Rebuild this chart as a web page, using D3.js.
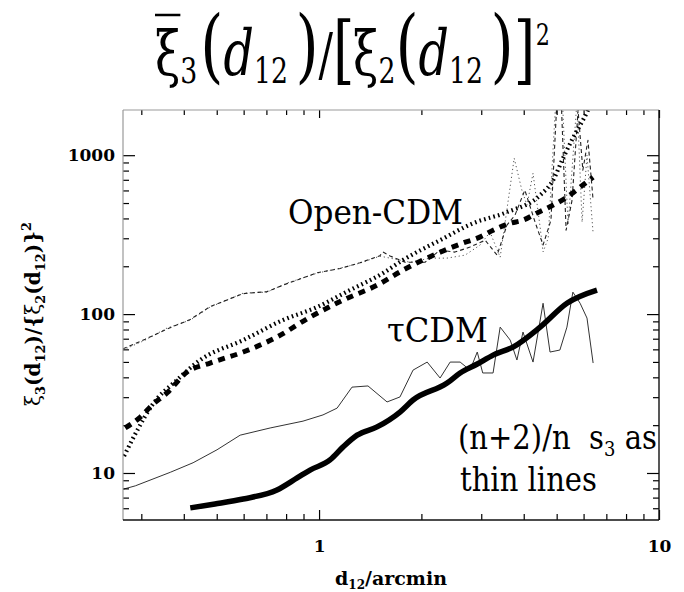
<!DOCTYPE html>
<html><head><meta charset="utf-8">
<script src="https://cdn.jsdelivr.net/npm/d3@7"></script>
<style>body{margin:0;background:#fff}svg{display:block}</style>
</head><body>
<svg id="c" width="684" height="592"></svg>
<script>
// ---------- data ----------
const xTicksMajor = [1, 10];
const xTicksMinor = [0.3,0.4,0.5,0.6,0.7,0.8,0.9,2,3,4,5,6,7,8,9];
const yTicksMajor = [10, 100, 1000];
const yTicksMinor = [6,7,8,9,20,30,40,50,60,70,80,90,200,300,400,500,600,700,800,900];

// tauCDM thick solid
const tauThickX = [0.418,0.494,0.598,0.752,0.862,0.941,1.077,1.177,1.294,1.481,1.73,1.89,2.38,2.60,2.92,3.25,3.72,4.47,5.36,6.57];
const tauThickY = [6.03,6.38,6.86,7.82,9.31,10.44,12.08,14.6,17.3,19.5,24.2,28.8,36.8,42.6,48.5,55.2,62.0,82.8,117,141.6];
// tauCDM thin solid ((n+2)/n s3)
const tauThinX = [0.265,0.288,0.365,0.426,0.501,0.586,0.718,0.897,1.027,1.13,1.25,1.393,1.585,1.73,1.89,2.08,2.27,2.43,2.60,2.78,2.92,3.03,3.25,3.41,3.65,3.82,3.98,4.26,4.56,4.78,5.11,5.36,5.58,5.86,6.14,6.40];
const tauThinY = [7.9,8.3,10.1,11.6,14.0,17.3,19.2,21.2,23.2,25.6,34.7,35.3,28.0,30.1,44.4,49.9,39.6,49.9,49.9,44.4,57.7,42.6,42.6,82.8,68.6,51.4,77.1,49.9,117,57.7,59.4,82.8,137.5,117,94.4,49.2];
// Open-CDM thick dotted
const openDotX = [0.267,0.292,0.323,0.382,0.447,0.598,0.783,0.987,1.234,1.542,1.766,2.27,2.84,3.57,4.47,4.88,5.22,5.58,5.86,6.14,6.35];
const openDotY = [12.8,18.6,26.8,38.5,51.4,68.6,91.7,110.7,141.6,181,219,292,373,438,560,696,957,1279,1545,1863,2218];
// Open-CDM thick dashed
const openDashX = [0.269,0.298,0.323,0.357,0.409,0.478,0.598,0.752,0.941,1.177,1.481,1.766,2.27,2.65,2.97,3.25,3.65,3.98,4.37,4.88,5.36,5.86,6.40];
const openDashY = [19.2,22.5,26.8,31.9,43.2,49.2,57.7,71.7,95.7,122.5,152,189,245,280,305,337,373,390,432,485,544,629,727];
// Open-CDM thin dotted ((n+2)/n s3)
const openThinDotX = [0.265,0.308,0.357,0.418,0.478,0.598,0.703,0.805,0.987,1.153,1.32,1.51,1.618,1.852,2.121,2.379,2.688,2.976,3.184,3.41,3.75,3.95,4.09,4.26,4.47,4.56,4.72,4.98,5.19,5.40,5.74,5.94,6.14,6.40];
const openThinDotY = [59.4,68.6,81.7,91.7,110.7,135.5,137.5,156.7,181,194.5,209.4,231.6,225,212,225,225,235,272,328,228,957,603,485,770,352,246,300,2385,2385,363,2218,379,1000,323];
// Open-CDM thin dashed ((n+2)/n s3)
const openThinDashX = [0.265,0.308,0.357,0.418,0.478,0.598,0.703,0.805,0.987,1.153,1.32,1.51,1.542,1.618,1.79,2.05,2.27,2.51,2.78,3.08,3.34,3.57,3.77,4.03,4.32,4.56,4.81,5.01,5.15,5.33,5.55,5.78,5.97,6.18,6.40];
const openThinDashY = [60.5,69.5,80.5,92.5,111.5,134.5,138.5,155.5,182,193.5,210.5,233,245.6,232,212,212,252.6,245.6,264,292,235,363,419.5,603,379,272,390,2218,2385,337,521,1919,805,1242,521];

// ---------- chart ----------
const svg = d3.select("#c");
const L = 123, R = 659, T = 110, B = 520;
const x = d3.scaleLog().domain([0.265, 10]).range([L, R]);
const y = d3.scaleLog().domain([5.06, 1925]).range([B, T]);

svg.append("clipPath").attr("id","clip").append("rect")
  .attr("x", L).attr("y", T).attr("width", R-L).attr("height", B-T);

const zip = (a,b) => a.map((v,i)=>[v,b[i]]);
const line = d3.line().x(d=>x(d[0])).y(d=>y(d[1]));
const smooth = d3.line().x(d=>x(d[0])).y(d=>y(d[1])).curve(d3.curveMonotoneX);
const plot = svg.append("g").attr("clip-path","url(#clip)");

function draw(xs, ys, w, dash, col, gen) {
  plot.append("path").datum(zip(xs, ys)).attr("d", gen || line)
    .attr("fill","none").attr("stroke", col).attr("stroke-width", w)
    .attr("stroke-dasharray", dash).attr("stroke-linecap", "butt")
    .attr("stroke-linejoin","round");
}
draw(openThinDotX, openThinDotY, 1, "1.2,2.8", "#555");
draw(openThinDashX, openThinDashY, 1.1, "4,3", "#222");
draw(tauThinX, tauThinY, 1, null, "#333");
draw(openDotX, openDotY, 4.2, "1.6,3.2", "#000", smooth);
draw(openDashX, openDashY, 5, "7,6", "#000", smooth);
draw(tauThickX, tauThickY, 5.5, null, "#000", smooth);

// axes (ticks inward, on all four sides)
const tf = "DejaVu Serif";
function styleAxis(g, col) {
  g.select(".domain").remove();
  g.selectAll(".tick line").attr("stroke", col||"#000").attr("stroke-width", 1.2);
  g.selectAll(".tick text").attr("font-family", tf).attr("font-weight","bold")
    .attr("font-size", 17).attr("fill","#000");
}
const fmt = d => String(d);
svg.append("g").attr("transform",`translate(0,${B})`)
  .call(d3.axisBottom(x).tickValues(xTicksMajor).tickFormat(fmt).tickSize(-10).tickPadding(20)).call(styleAxis);
svg.append("g").attr("transform",`translate(0,${B})`)
  .call(d3.axisBottom(x).tickValues(xTicksMinor).tickFormat("").tickSize(-6)).call(styleAxis);
svg.append("g").attr("transform",`translate(0,${T})`)
  .call(d3.axisTop(x).tickValues(xTicksMajor).tickFormat("").tickSize(-8)).call(styleAxis);
svg.append("g").attr("transform",`translate(0,${T})`)
  .call(d3.axisTop(x).tickValues(xTicksMinor).tickFormat("").tickSize(-5)).call(styleAxis);
svg.append("g").attr("transform",`translate(${L},0)`)
  .call(d3.axisLeft(y).tickValues(yTicksMajor).tickFormat(fmt).tickSize(-12).tickPadding(8)).call(styleAxis);
svg.append("g").attr("transform",`translate(${L},0)`)
  .call(d3.axisLeft(y).tickValues(yTicksMinor).tickFormat("").tickSize(-6)).call(styleAxis);
svg.append("g").attr("transform",`translate(${R},0)`)
  .call(d3.axisRight(y).tickValues(yTicksMajor).tickFormat("").tickSize(-12)).call(styleAxis);
svg.append("g").attr("transform",`translate(${R},0)`)
  .call(d3.axisRight(y).tickValues(yTicksMinor).tickFormat("").tickSize(-6)).call(styleAxis);

// frame
svg.append("line").attr("x1",L).attr("x2",R).attr("y1",T).attr("y2",T).attr("stroke","#999").attr("stroke-width",1.2);
svg.append("line").attr("x1",L).attr("x2",L).attr("y1",T).attr("y2",B).attr("stroke","#999").attr("stroke-width",1.2);
svg.append("line").attr("x1",L).attr("x2",R).attr("y1",B).attr("y2",B).attr("stroke","#111").attr("stroke-width",1.4);
svg.append("line").attr("x1",R).attr("x2",R).attr("y1",T).attr("y2",B).attr("stroke","#111").attr("stroke-width",1.4);

// x-axis title
const xt = svg.append("text").attr("x", (L+R)/2).attr("y", 585).attr("text-anchor","middle")
  .attr("font-family", tf).attr("font-weight","bold").attr("font-size", 19);
xt.append("tspan").text("d");
xt.append("tspan").attr("font-size", 12).attr("dy", 4).text("12");
xt.append("tspan").attr("dy", -4).text("/arcmin");

// y-axis title
const yt = svg.append("text").attr("transform","translate(40,314) rotate(-90)").attr("text-anchor","middle")
  .attr("font-family", tf).attr("font-weight","bold").attr("font-size", 20);
const ysp = [["ξ",0,20,"normal"],["3",5,13,"bold"],["(d",-5,20,"bold"],["12",5,13,"bold"],[")/{",-5,20,"bold"],
  ["ξ",0,20,"normal"],["2",5,13,"bold"],["(d",-5,20,"bold"],["12",5,13,"bold"],[")}",-5,20,"bold"],["2",-9,13,"bold"]];
ysp.forEach(p => yt.append("tspan").attr("dy", p[1]).attr("font-size", p[2]).attr("font-weight", p[3]).text(p[0]));

// annotations (horizontally fitted to the reference widths)
const af = "DejaVu Serif";
function fitG(x0, w, build) {
  const g = svg.append("g");
  const t = g.append("text").attr("x", 0).attr("font-family", af).attr("font-size", 34)
    .attr("xml:space", "preserve");
  build(t);
  const bw = t.node().getBBox().width;
  g.attr("transform", `translate(${x0},0) scale(${w / bw},1)`);
}
fitG(288, 175, t => t.attr("y", 224).text("Open-CDM"));
fitG(387, 101, t => t.attr("y", 342).text("τCDM"));
fitG(458, 199, t => {
  t.attr("y", 449);
  t.append("tspan").text("(n+2)/n  s");
  t.append("tspan").attr("font-size", 21).attr("dy", 7).text("3");
  t.append("tspan").attr("dy", -7).text(" as");
});
fitG(460, 137, t => t.attr("y", 491).text("thin lines"));

// big title
const tg = svg.append("g");
const pieces = [
  {t:"ξ", s:62, dy:0, over:true},
  {t:"3", s:36, dy:8},
  {t:"(", s:80, dy:-2, gap:4},
  {t:"d", s:64, dy:0, it:true},
  {t:"12", s:36, dy:8},
  {t:")", s:80, dy:-2, gap:10},
  {t:"/", s:58, dy:0},
  {t:"[", s:74, dy:0},
  {t:"ξ", s:62, dy:0, gap:-2},
  {t:"2", s:36, dy:8},
  {t:"(", s:80, dy:-2},
  {t:"d", s:64, dy:0, it:true},
  {t:"12", s:36, dy:8},
  {t:")", s:80, dy:-2, gap:10},
  {t:"]", s:74, dy:0},
  {t:"2", s:30, dy:-30, gap:1}
];
let cx = 0; const base = 75;
pieces.forEach(p => {
  cx += (p.gap||0);
  const t = tg.append("text").attr("x", cx).attr("y", base + p.dy)
    .attr("font-family", af).attr("font-size", p.s).attr("font-style", p.it ? "italic" : "normal").text(p.t);
  const w = t.node().getComputedTextLength();
  if (p.over) tg.append("line").attr("x1", cx).attr("x2", cx + w).attr("y1", 15).attr("y2", 15)
    .attr("stroke","#000").attr("stroke-width", 2.5);
  cx += w;
});
const sx = 395 / cx;
tg.attr("transform", `translate(155,0) scale(${sx},1)`);
</script>
</body></html>
